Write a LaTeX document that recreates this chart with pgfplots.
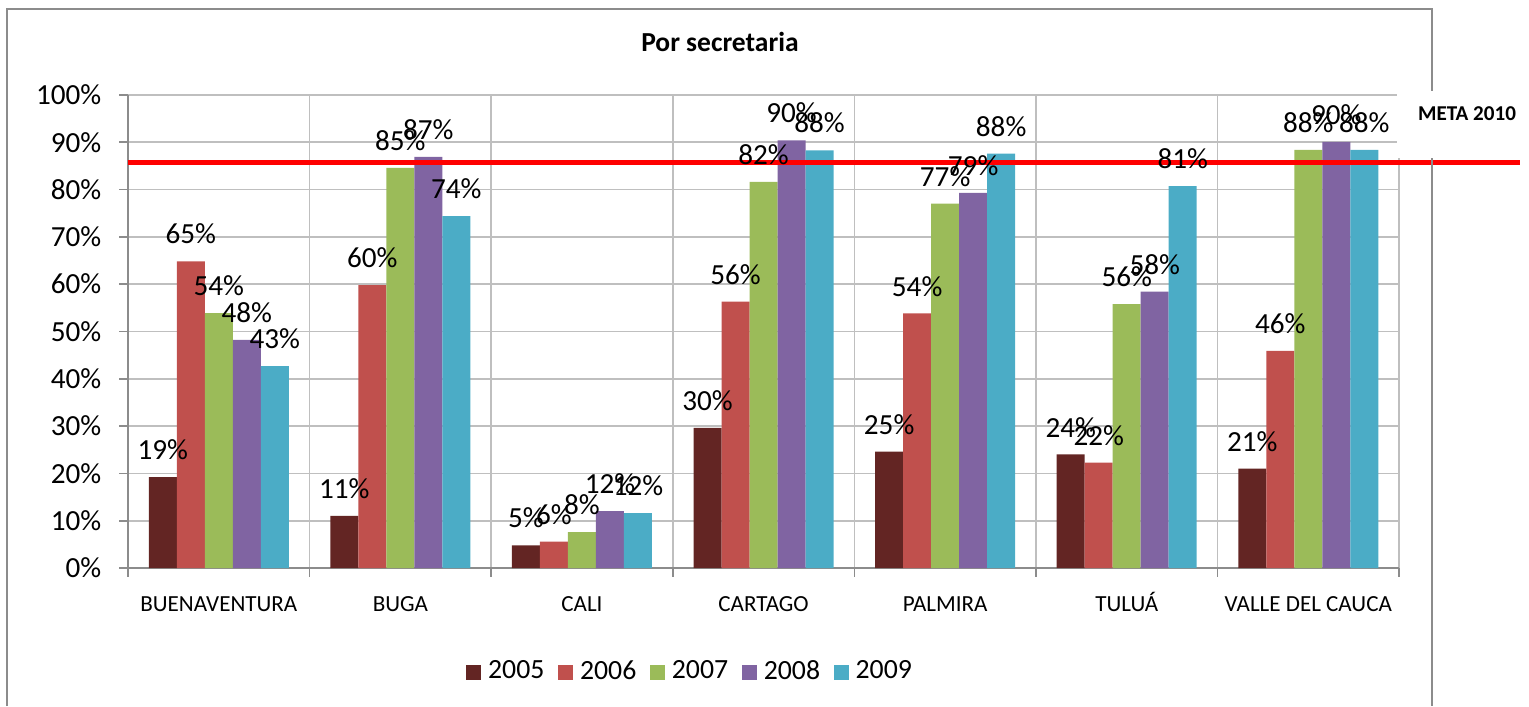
\documentclass[border=0pt]{standalone}
\usepackage{fontspec}
\setmainfont{Carlito}
\usepackage{pgfplots}
\pgfplotsset{compat=1.18}
\definecolor{c05}{HTML}{632523}
\definecolor{c06}{HTML}{C0504D}
\definecolor{c07}{HTML}{9BBB59}
\definecolor{c08}{HTML}{8064A2}
\definecolor{c09}{HTML}{4BACC6}
\pgfkeys{/pgf/number format/assume math mode=true}

% one image pixel = 0.36pt, axis origin at pixel (128,568)
\begin{document}
\begin{tikzpicture}
\begin{axis}[
  scale only axis, width=457.6pt, height=170.3pt,
  clip=false,
  ybar=0pt, bar width=10.08pt,
  legend image code/.code={\fill[#1] (0pt,-2.7pt) rectangle (5.4pt,2.7pt);},
  xmin=-0.5, xmax=6.5, ymin=0, ymax=100,
  xtick={0,...,6},
  xticklabels={BUENAVENTURA,BUGA,CALI,CARTAGO,PALMIRA,TULUÁ,VALLE DEL CAUCA},
  minor xtick={-0.5,0.5,...,6.5},
  xminorgrids, ymajorgrids,
  ytick={0,10,...,100},
  yticklabel={\pgfmathprintnumber{\tick}\%},
  grid style={draw=black!25, line width=0.6pt},
  minor grid style={draw=black!25, line width=0.6pt},
  axis x line*=bottom, axis y line*=left,
  axis line style={draw=black!45, line width=0.6pt, -},
  tick align=outside,
  major tick length=3.2pt, minor tick length=3.2pt,
  tick style={draw=black!45, line width=0.6pt},
  major x tick style={draw=none},
  xticklabel style={font=\fontsize{8.3}{10}\selectfont, anchor=base, yshift=-12.5pt},
  yticklabel style={font=\fontsize{10.5}{12}\selectfont, xshift=-2.9pt},
  nodes near coords={\pgfmathprintnumber[fixed,precision=0]{\pgfplotspointmeta}\%},
  nodes near coords style={font=\fontsize{10.5}{12}\selectfont, anchor=south, inner sep=0pt, yshift=6pt},
  legend style={at={(axis description cs:0.4414,-0.2199)}, anchor=center, draw=none,
    font=\fontsize{10}{12}\selectfont, column sep=0pt, nodes={inner sep=0pt}},
  legend columns=-1,
  /tikz/every odd column/.append style={column sep=2.5pt},
  /tikz/every even column/.append style={column sep=4.9pt},
]
\addplot[fill=c05, draw=none] coordinates {(0,19.2) (1,11.0) (2,4.8) (3,29.6) (4,24.6) (5,24.0) (6,21.0)};
\addplot[fill=c06, draw=none] coordinates {(0,64.8) (1,59.8) (2,5.6) (3,56.3) (4,53.8) (5,22.3) (6,45.9)};
\addplot[fill=c07, draw=none] coordinates {(0,53.9) (1,84.6) (2,7.6) (3,81.6) (4,77.0) (5,55.8) (6,88.4)};
\addplot[fill=c08, draw=none] coordinates {(0,48.2) (1,86.9) (2,12.0) (3,90.4) (4,79.3) (5,58.4) (6,90.1)};
\addplot[fill=c09, draw=none] coordinates {(0,42.7) (1,74.4) (2,11.6) (3,88.3) (4,87.6) (5,80.7) (6,88.4)};
\legend{2005,2006,2007,2008,2009}
\draw[red, line width=1.8pt] (axis cs:-0.5,85.7) -- (axis cs:7.167,85.7);
\end{axis}
% chart frame
\draw[black!45, line width=0.6pt] (-43.56pt,-49.68pt) -- (-43.56pt,201.24pt) -- (469.44pt,201.24pt) -- (469.44pt,-49.68pt);
\fill[white] (456.84pt,147.6pt) rectangle (504.36pt,171.72pt);
\node[font=\bfseries\fontsize{7.6}{9}\selectfont] at (482.04pt,163.44pt) {META 2010};
\node[font=\bfseries\fontsize{9.9}{12}\selectfont, anchor=base] at (213.1pt,185.8pt) {Por secretaria};
\pgfresetboundingbox
\path (-46.08pt,-49.68pt) rectangle (504.36pt,204.48pt);
\end{tikzpicture}
\end{document}
